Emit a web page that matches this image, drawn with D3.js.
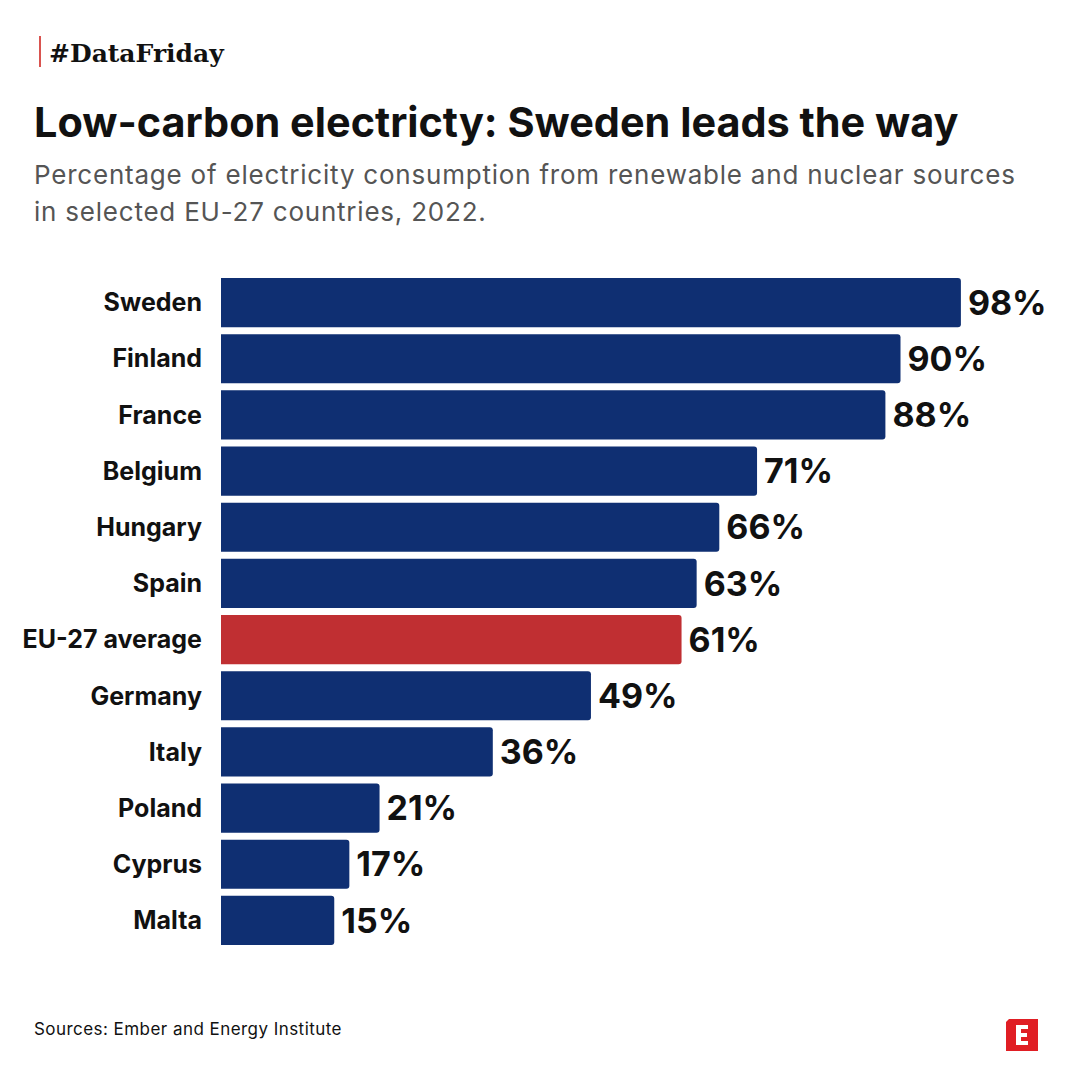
<!DOCTYPE html>
<html>
<head>
<meta charset="utf-8">
<script src="https://cdn.jsdelivr.net/npm/d3@7"></script>
<style>
  body { margin: 0; background: #fff; }
  svg { display: block; }
</style>
</head>
<body>
<svg id="chart" width="1080" height="1080"></svg>
<script>
var countries = ["Sweden", "Finland", "France", "Belgium", "Hungary", "Spain",
    "EU-27 average", "Germany", "Italy", "Poland", "Cyprus", "Malta"];
var shares = [98, 90, 88, 71, 66, 63, 61, 49, 36, 21, 17, 15];
var highlight = "EU-27 average";

var data = countries.map(function (c, i) { return { country: c, value: shares[i] }; });

var svg = d3.select("#chart");
var font = "Inter, 'Noto Sans', sans-serif";

// tag
svg.append("rect").attr("x", 39).attr("y", 36).attr("width", 2).attr("height", 31).attr("fill", "#d9534f");
svg.append("text")
    .attr("x", 49).attr("y", 62)
    .attr("font-family", "'DejaVu Serif', serif")
    .attr("font-weight", "bold")
    .attr("font-size", "25px")
    .attr("fill", "#111")
    .text("#DataFriday");

// title
svg.append("text")
    .attr("x", 34).attr("y", 137)
    .attr("font-family", font)
    .attr("font-weight", 700)
    .attr("font-size", "41.4px")
    .attr("fill", "#111")
    .text("Low-carbon electricty: Sweden leads the way");

var sub = ["Percentage of electricity consumption from renewable and nuclear sources",
    "in selected EU-27 countries, 2022."];
svg.selectAll(".sub").data(sub).enter().append("text")
    .attr("class", "sub")
    .attr("x", 34)
    .attr("y", function (d, i) { return 184 + i * 37; })
    .attr("font-family", font)
    .attr("font-size", "26px")
    .attr("letter-spacing", "0.78px")
    .attr("fill", "#555")
    .text(function (d) { return d; });

var x = d3.scaleLinear().domain([0, 100]).range([221, 976]);
var y = d3.scaleBand().domain(countries).range([278, 945]).paddingInner(0.125).paddingOuter(0);

function barPath(d) {
    var x0 = x(0), x1 = x(d.value), y0 = y(d.country), h = y.bandwidth(), r = 3;
    return "M" + x0 + "," + y0 + "H" + (x1 - r) + "Q" + x1 + "," + y0 + " " + x1 + "," + (y0 + r) +
        "V" + (y0 + h - r) + "Q" + x1 + "," + (y0 + h) + " " + (x1 - r) + "," + (y0 + h) +
        "H" + x0 + "Z";
}

var g = svg.append("g");

g.selectAll(".bar")
    .data(data)
    .enter()
    .append("path")
    .attr("class", "bar")
    .attr("d", barPath)
    .attr("fill", function (d) { return d.country === highlight ? "#c02f32" : "#0f2f72"; });

// category labels
g.selectAll(".lab")
    .data(data)
    .enter()
    .append("text")
    .attr("class", "lab")
    .attr("x", 202)
    .attr("y", function (d) { return y(d.country) + y.bandwidth() / 2; })
    .attr("dy", "0.35em")
    .attr("text-anchor", "end")
    .attr("font-family", font)
    .attr("font-weight", 700)
    .attr("font-size", "25px")
    .attr("fill", "#111")
    .text(function (d) { return d.country; });

// value labels
g.selectAll(".val")
    .data(data)
    .enter()
    .append("text")
    .attr("class", "val")
    .attr("x", function (d) { return x(d.value) + 7; })
    .attr("y", function (d) { return y(d.country) + y.bandwidth() / 2; })
    .attr("dy", "0.36em")
    .attr("font-family", font)
    .attr("font-weight", 700)
    .attr("font-size", "34px")
    .attr("fill", "#111")
    .text(function (d) { return d.value + "%"; });

// source
svg.append("text")
    .attr("x", 34).attr("y", 1035)
    .attr("font-family", font)
    .attr("font-size", "17px")
    .attr("letter-spacing", "0.45px")
    .attr("fill", "#111")
    .text("Sources: Ember and Energy Institute");

// logo
var logo = svg.append("g").attr("transform", "translate(1006,1019)");
logo.append("path").attr("d", "M3,0H32V32H0V3Z").attr("fill", "#e01e24");
logo.append("path").attr("d", "M10,6H22V10H15V14H21V18H15V22H22V26H10Z").attr("fill", "#fff");
</script>
</body>
</html>
